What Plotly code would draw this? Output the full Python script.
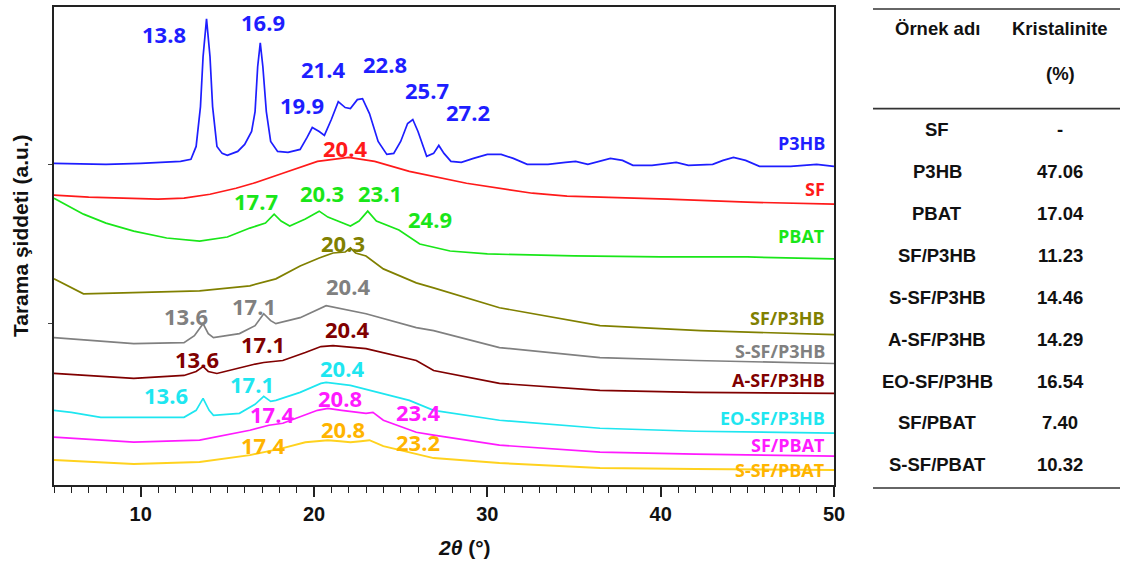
import plotly.graph_objects as go

# ---- XRD patterns (2θ in degrees, stacked intensity in a.u.) ----
tt_p3hb = [5, 8, 10, 11.5, 12.3, 12.9, 13.2, 13.45, 13.6, 13.8, 14.0, 14.15, 14.4, 14.7, 15.0, 15.6,
           16.0, 16.4, 16.6, 16.75, 16.9, 17.05, 17.25, 17.5, 17.9, 18.5, 19.2, 19.6, 19.9, 20.3,
           20.6, 21.0, 21.4, 21.8, 22.1, 22.5, 22.8, 23.2, 23.7, 24.2, 24.6, 25.0, 25.4, 25.7,
           26.0, 26.5, 26.9, 27.2, 27.5, 27.9, 28.5, 29.2, 30.0, 30.8, 31.5, 32.3, 33.5, 34.5,
           35.1, 35.8, 36.5, 37.1, 37.8, 38.4, 39.5, 40.3, 40.9, 41.6, 43.0, 43.6, 44.2, 44.9,
           45.7, 47.5, 49.0, 50]
int_p3hb = [323, 322, 323, 324, 325, 327, 340, 380, 430, 468, 430, 380, 340, 333, 331, 335,
            342, 355, 375, 420, 444, 420, 375, 345, 335, 334, 337, 349, 359, 355,
            351, 367, 385, 379, 378, 387, 388, 373, 345, 332, 333, 345, 363, 367,
            355, 330, 333, 341, 333, 325, 324, 328, 332, 332, 328, 322, 322, 324,
            325, 322, 325, 328, 326, 321, 321, 323, 324, 321, 322, 326, 329, 326,
            320, 320, 322, 320]

tt_sf = [5, 7, 9, 11, 12.5, 14, 15.5, 16.5, 18.2, 20.2, 22, 23.5, 25.5, 28.8, 32.6, 34.6, 40.4, 45, 50]
int_sf = [291, 289, 288, 287, 288, 292, 298, 303, 313, 325, 329, 325, 315, 303, 293, 290, 287, 284, 282]

tt_pbat = [5, 6.7, 8, 9.6, 11.5, 13.4, 15, 16.3, 17.2, 17.7, 18.1, 18.6, 19.5, 20.3, 20.8, 22.1,
           22.6, 23.1, 23.6, 24.4, 24.9, 26.1, 27.85, 30, 35, 40, 45, 50]
int_pbat = [288, 272, 263, 255, 248, 245, 249, 258, 263, 272, 265, 260, 267, 275, 269, 260,
            265, 275, 265, 259, 256, 242, 235, 232, 230, 229, 229, 227]

tt_sf_p3hb = [5, 6.7, 9, 11.5, 13.4, 16.3, 17.8, 19.2, 20.3, 21.1, 21.8, 22.1, 22.4, 23, 24, 25.9,
              26.9, 30.7, 36.5, 42.3, 50]
int_sf_p3hb = [207, 192, 193, 194, 195, 200, 207, 220, 228, 233, 234, 238, 233, 230, 217, 203,
               198, 178, 160, 155, 151]

tt_s_sf_p3hb = [5, 9.6, 12.5, 13.1, 13.6, 13.9, 14.2, 15.7, 16.6, 17.1, 17.5, 17.8, 19.2, 20.7,
                23.0, 25.9, 26.9, 30.7, 36.5, 42, 50]
int_s_sf_p3hb = [148, 142, 143, 150, 162, 152, 148, 152, 160, 172, 165, 162, 168, 180,
                 172, 158, 155, 138, 128, 125, 122]

tt_a_sf_p3hb = [5, 9.6, 12.5, 13.2, 13.6, 13.9, 14.4, 15.5, 16.5, 17.1, 18.2, 19.5, 20.4, 21.1,
                23.0, 25.9, 26.9, 30.7, 36.5, 42, 50]
int_a_sf_p3hb = [112, 107, 110, 114, 119, 114, 112, 117, 121, 123, 125, 133, 139, 140,
                 137, 125, 115, 102, 95, 93, 92]

tt_eo_sf_p3hb = [5, 6, 7.7, 12.5, 13.2, 13.6, 13.95, 14.2, 15.7, 16.6, 17.1, 17.5, 17.8, 19.2,
                 20.4, 20.7, 22.1, 24, 25.5, 26.9, 30.7, 36.5, 42, 50]
int_eo_sf_p3hb = [75, 73, 68, 68, 75, 87, 75, 70, 72, 81, 89, 84, 85, 93,
                  102, 103, 100, 92, 85, 75, 65, 57, 54, 52]

tt_sf_pbat = [5, 9.6, 13.4, 16.3, 17.4, 18.2, 20.2, 20.8, 21.6, 23.0, 23.4, 24, 25.9, 26.9,
              30.7, 36.5, 42, 50]
int_sf_pbat = [48, 43, 45, 55, 60, 62, 75, 77, 75, 72, 73, 65, 53, 50,
               40, 33, 31, 29]

tt_s_sf_pbat = [5, 9.6, 13.4, 16.3, 17.4, 18.2, 19.5, 20.8, 21.5, 22.1, 22.7, 23.2, 24, 25, 26.9,
                30.7, 36.5, 42, 50]
int_s_sf_pbat = [25, 21, 23, 30, 34, 37, 43, 45, 44, 43, 44, 45, 39, 35, 27,
                 22, 17, 16, 15]

samples = ["P3HB", "SF", "PBAT", "SF/P3HB", "S-SF/P3HB", "A-SF/P3HB",
           "EO-SF/P3HB", "SF/PBAT", "S-SF/PBAT"]
line_colors = ["#1e1eff", "#ff1a1a", "#19e619", "#808000", "#808080", "#800000",
               "#1ee6f0", "#ff1aff", "#ffd21f"]
text_colors = ["#1e1eff", "#ff1a1a", "#19e619", "#808000", "#808080", "#800000",
               "#1ee6f0", "#ff1aff", "#ffb400"]
patterns = [(tt_p3hb, int_p3hb), (tt_sf, int_sf), (tt_pbat, int_pbat),
            (tt_sf_p3hb, int_sf_p3hb), (tt_s_sf_p3hb, int_s_sf_p3hb),
            (tt_a_sf_p3hb, int_a_sf_p3hb), (tt_eo_sf_p3hb, int_eo_sf_p3hb),
            (tt_sf_pbat, int_sf_pbat), (tt_s_sf_pbat, int_s_sf_pbat)]

# curve name label heights (a.u.) near the right edge
name_label_y = [343, 297, 250, 168, 135, 105, 67, 40, 15]

# peak labels: (sample index, text, label x, label y)
peak_labels = [
    (0, "13.8", 11.35, 453), (0, "16.9", 17.03, 465), (0, "19.9", 19.29, 382),
    (0, "21.4", 20.5, 418), (0, "22.8", 24.1, 423), (0, "25.7", 26.53, 397),
    (0, "27.2", 28.91, 375),
    (1, "20.4", 21.78, 338),
    (2, "17.7", 16.68, 285), (2, "20.3", 20.44, 293), (2, "23.1", 23.8, 293), (2, "24.9", 26.7, 267),
    (3, "20.3", 21.66, 243),
    (4, "13.6", 12.62, 170), (4, "17.1", 16.56, 180), (4, "20.4", 21.95, 200),
    (5, "13.6", 13.26, 127), (5, "17.1", 17.03, 142), (5, "20.4", 21.89, 157),
    (6, "13.6", 11.47, 90), (6, "17.1", 16.45, 101), (6, "20.4", 21.6, 117),
    (7, "17.4", 17.55, 71), (7, "20.8", 21.48, 87), (7, "23.4", 26.0, 73),
    (8, "17.4", 17.03, 40), (8, "20.8", 21.66, 56), (8, "23.2", 26.0, 43),
]

# crystallinity table
table_names = ["SF", "P3HB", "PBAT", "SF/P3HB", "S-SF/P3HB", "A-SF/P3HB",
               "EO-SF/P3HB", "SF/PBAT", "S-SF/PBAT"]
table_values = ["-", "47.06", "17.04", "11.23", "14.46", "14.29", "16.54", "7.40", "10.32"]

# ---- figure geometry (pixels) ----
W, H = 1125, 564
ML, MR, MT, MB = 54, 291, 5, 79
PW, PH = W - ML - MR, H - MT - MB


def px_x(px):
    return (px - ML) / PW


def px_y(py):
    return (H - MB - py) / PH


def paper_text(px, py, text, font, **kw):
    fig.add_annotation(xref="paper", yref="paper", x=px_x(px), y=px_y(py), text=text,
                       showarrow=False, xanchor="center", yanchor="middle", font=font, **kw)


fig = go.Figure()
for (tt, yy), name, col in zip(patterns, samples, line_colors):
    fig.add_trace(go.Scatter(x=tt, y=yy, mode="lines", name=name,
                             line=dict(color=col, width=1.7 if name != "S-SF/PBAT" else 2),
                             showlegend=False, hoverinfo="skip"))

label_font = "Open Sans, Noto Sans, sans-serif"
for i, (name, ly) in enumerate(zip(samples, name_label_y)):
    fig.add_annotation(x=49.6, y=ly, text=name, showarrow=False, xanchor="right",
                       yanchor="middle",
                       font=dict(family=label_font, size=18, color=text_colors[i], weight=700))

for idx, txt, lx, ly in peak_labels:
    fig.add_annotation(x=lx, y=ly, text=txt, showarrow=False, xanchor="center",
                       yanchor="middle", borderpad=0,
                       font=dict(family=label_font, size=22, color=text_colors[idx], weight=700))

# axis titles
axis_font = dict(family="Liberation Sans, Arial", size=21, color="#111")
paper_text(20, 235, "<b>Tarama şiddeti (a.u.)</b>", axis_font, textangle=-90)
paper_text(464, 548, "<b><i>2θ</i> (°)</b>", axis_font)

# table
tfont = dict(family="Liberation Sans, Arial", size=18.5, color="#111")
col1, col2 = 937, 1060
for py in (7, 107, 488):
    fig.add_shape(type="line", xref="paper", yref="paper", x0=px_x(873), x1=px_x(1120),
                  y0=px_y(py), y1=px_y(py), line=dict(color="#333", width=1.6))
paper_text(col1, 27, "<b>Örnek adı</b>", tfont)
paper_text(col2, 27, "<b>Kristalinite</b>", tfont)
paper_text(col2, 72, "<b>(%)</b>", tfont)
row_py = 128
for nm, val in zip(table_names, table_values):
    paper_text(col1, row_py, f"<b>{nm}</b>", tfont)
    paper_text(col2, row_py, f"<b>{val}</b>", tfont)
    row_py += 42.1

fig.update_layout(
    width=W, height=H,
    margin=dict(l=ML, r=MR, t=MT, b=MB),
    paper_bgcolor="white", plot_bgcolor="white",
    xaxis=dict(range=[5, 50], tickvals=[10, 20, 30, 40, 50], ticks="outside", ticklen=10,
               tickwidth=1.5, tickcolor="#222", showgrid=False, zeroline=False,
               showline=True, linecolor="#222", linewidth=2, mirror=True,
               tickfont=dict(family="Liberation Sans, Arial", size=20, color="#111", weight="bold"),
               minor=dict(dtick=1, ticks="outside", ticklen=6, tickwidth=1.2, tickcolor="#222")),
    yaxis=dict(range=[0, 480], tickvals=[162, 322], ticks="outside", ticklen=4, tickcolor="#444",
               showticklabels=False, showgrid=False, zeroline=False, showline=True,
               linecolor="#222", linewidth=2, mirror=True),
)

fig.write_html("out.html")
